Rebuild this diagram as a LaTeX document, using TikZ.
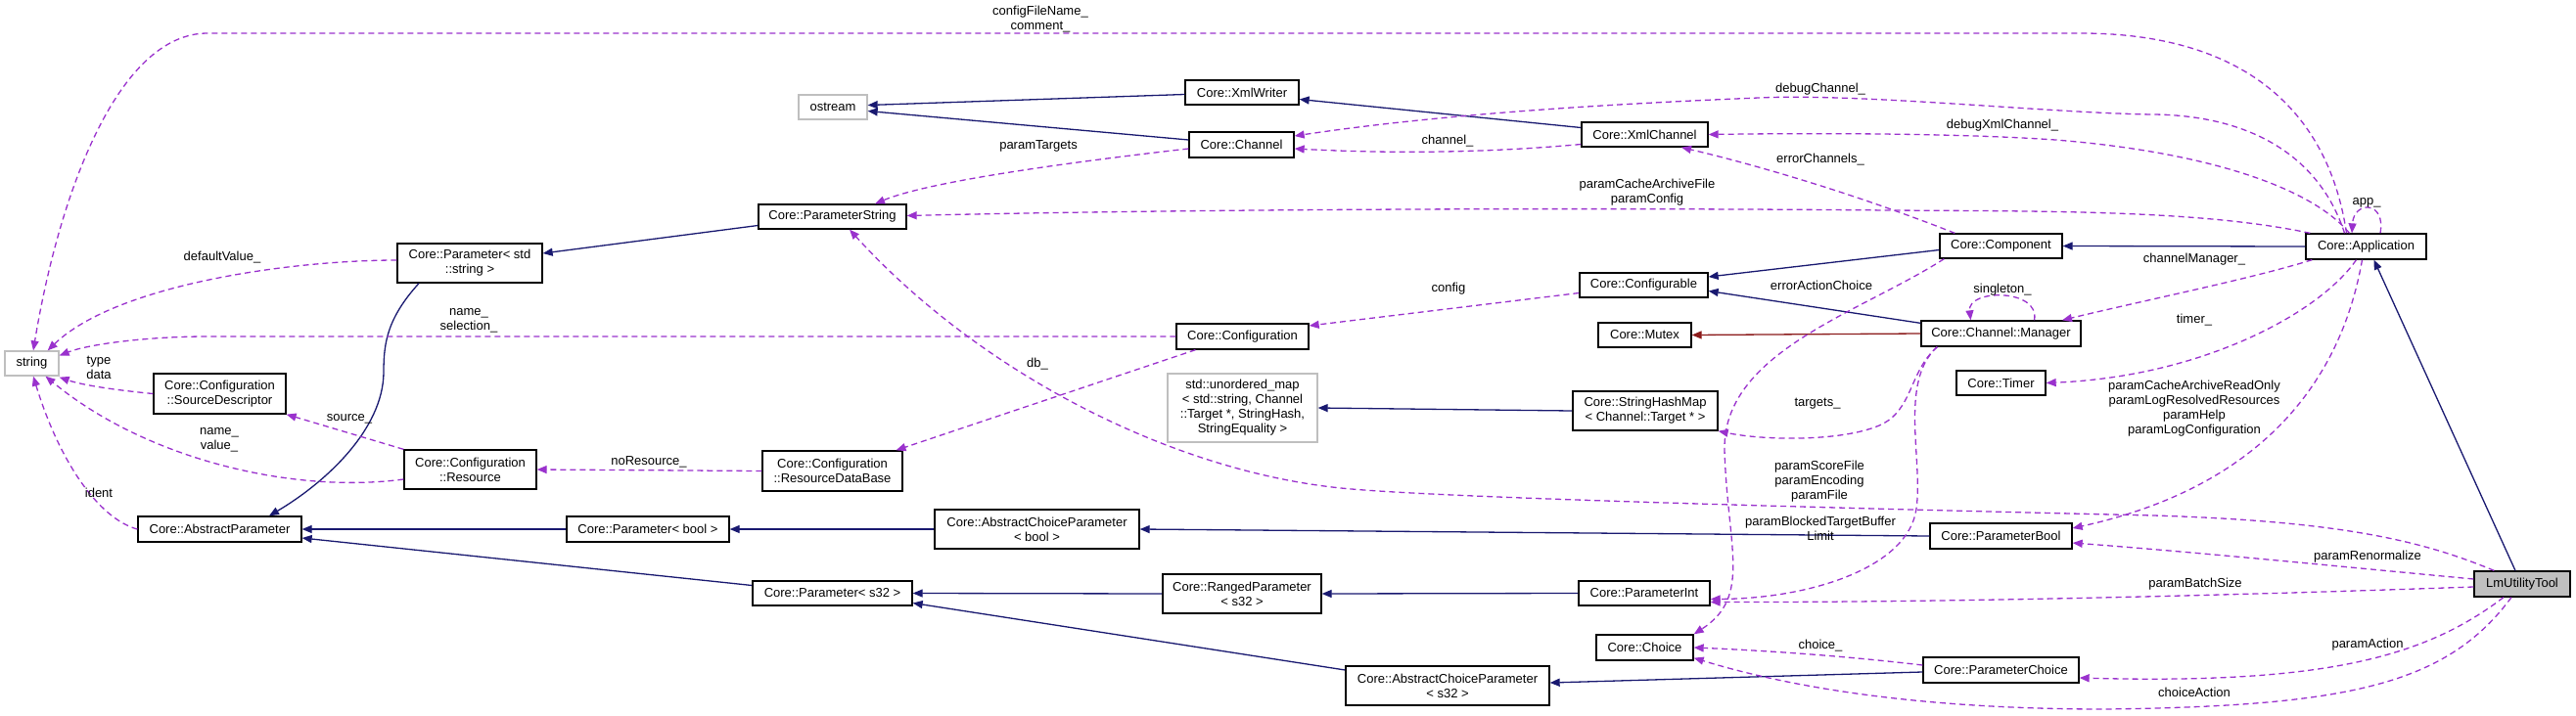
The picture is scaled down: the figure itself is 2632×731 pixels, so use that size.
\documentclass[tikz,border=0pt]{standalone}
\usepackage{fontspec}
\setmainfont{Liberation Sans}
\usetikzlibrary{arrows.meta,calc}
\definecolor{inhcol}{RGB}{25,25,112}
\definecolor{usecol}{RGB}{154,50,205}
\definecolor{privcol}{RGB}{139,26,26}
\definecolor{graycol}{RGB}{191,191,191}
\begin{document}
\begin{tikzpicture}[x=1pt,y=-1pt,
  font=\fontsize{13}{15}\selectfont,
  cls/.style={draw=black, line width=1.3pt, fill=white, inner sep=0pt, align=center},
  ext/.style={draw=graycol, line width=1.3pt, fill=white, inner sep=0pt, align=center},
  me/.style={draw=black, line width=1.3pt, fill=graycol, inner sep=0pt, align=center},
  inh/.style={draw=inhcol, line width=1.3pt, -{Triangle[length=10pt,width=8pt]}},
  priv/.style={draw=privcol, line width=1.3pt, -{Triangle[length=10pt,width=8pt]}},
  use/.style={draw=usecol, line width=1.3pt, dash pattern=on 6pt off 4pt, -{Triangle[length=10pt,width=8pt]}},
  lbl/.style={inner sep=0pt, align=center}
]
\useasboundingbox (0,0) rectangle (2632,731);

% ---- nodes ----
\node[ext, minimum width=55pt, minimum height=25pt] (str) at (32.5,371.5) {string};
\node[ext, minimum width=70pt, minimum height=25pt] (os) at (851,109.5) {ostream};
\node[cls, minimum width=151pt, minimum height=25pt] (ps) at (850.5,221.5) {Core::ParameterString};
\node[cls, minimum width=148pt, minimum height=40pt] (pstd) at (480,269) {Core::Parameter< std\\::string >};
\node[cls, minimum width=167pt, minimum height=26pt] (ap) at (224.5,541) {Core::AbstractParameter};
\node[cls, minimum width=135pt, minimum height=41pt] (sd) at (224.5,402.5) {Core::Configuration\\::SourceDescriptor};
\node[cls, minimum width=135pt, minimum height=40pt] (res) at (480.5,480) {Core::Configuration\\::Resource};
\node[cls, minimum width=166pt, minimum height=26pt] (pb) at (662,541) {Core::Parameter< bool >};
\node[cls, minimum width=143pt, minimum height=41pt] (rdb) at (850.5,481.5) {Core::Configuration\\::ResourceDataBase};
\node[cls, minimum width=163pt, minimum height=25pt] (p32) at (850.5,606.5) {Core::Parameter< s32 >};
\node[cls, minimum width=116pt, minimum height=25pt] (xw) at (1269,94.5) {Core::XmlWriter};
\node[cls, minimum width=107pt, minimum height=26pt] (ch) at (1268.5,148) {Core::Channel};
\node[cls, minimum width=135pt, minimum height=26pt] (cfg) at (1269.5,344) {Core::Configuration};
\node[ext, minimum width=153pt, minimum height=70pt] (umap) at (1269.5,417) {std::unordered\_map\\< std::string, Channel\\::Target *, StringHash,\\StringEquality >};
\node[cls, minimum width=209pt, minimum height=40pt] (acpb) at (1059.5,541) {Core::AbstractChoiceParameter\\< bool >};
\node[cls, minimum width=162pt, minimum height=40pt] (rp) at (1269,607) {Core::RangedParameter\\< s32 >};
\node[cls, minimum width=208pt, minimum height=40pt] (acp32) at (1479,701) {Core::AbstractChoiceParameter\\< s32 >};
\node[cls, minimum width=129pt, minimum height=25pt] (xc) at (1680.5,137.5) {Core::XmlChannel};
\node[cls, minimum width=131pt, minimum height=25pt] (cfgable) at (1679.5,291.5) {Core::Configurable};
\node[cls, minimum width=95pt, minimum height=25pt] (mutex) at (1680.5,342.5) {Core::Mutex};
\node[cls, minimum width=148pt, minimum height=40pt] (shm) at (1681,420) {Core::StringHashMap\\< Channel::Target * >};
\node[cls, minimum width=134pt, minimum height=25pt] (pint) at (1680,606.5) {Core::ParameterInt};
\node[cls, minimum width=99pt, minimum height=26pt] (choice) at (1680.5,662) {Core::Choice};
\node[cls, minimum width=125pt, minimum height=25pt] (comp) at (2044.5,251.5) {Core::Component};
\node[cls, minimum width=163pt, minimum height=26pt] (mgr) at (2044.5,341) {Core::Channel::Manager};
\node[cls, minimum width=91pt, minimum height=25pt] (timer) at (2044.5,391.5) {Core::Timer};
\node[cls, minimum width=145pt, minimum height=26pt] (pbool) at (2044.5,548) {Core::ParameterBool};
\node[cls, minimum width=159pt, minimum height=26pt] (pchoice) at (2044.5,685) {Core::ParameterChoice};
\node[cls, minimum width=123pt, minimum height=26pt] (app) at (2417.5,252) {Core::Application};
\node[me, minimum width=98pt, minimum height=26pt] (lm) at (2577,597) {LmUtilityTool};

% ---- inheritance ----
\draw[inh] ($(xw.west)+(0,2)$) -- ($(os.east)+(0,-2)$);
\draw[inh] ($(ch.west)+(0,-5)$) -- ($(os.east)+(0,4)$);
\draw[inh] ($(xc.west)+(0,-7)$) -- ($(xw.east)+(0,7)$);
\draw[inh] ($(ps.west)+(0,9)$) -- ($(pstd.east)+(0,-10)$);
\draw[inh] ($(pstd.south)+(-52,0)$) .. controls (396,325) and (392,350) .. (392,380)
   .. controls (392,440) and (330,495) .. ($(ap.north)+(50.5,0)$);
\draw[inh] (pb.west) -- (ap.east);
\draw[inh] ($(p32.west)+(0,-8)$) -- ($(ap.east)+(0,9)$);
\draw[inh] (acpb.west) -- (pb.east);
\draw[inh] (pbool.west) -- (acpb.east);
\draw[inh] (rp.west) -- (p32.east);
\draw[inh] (pint.west) -- (rp.east);
\draw[inh] ($(acp32.west)+(0,-16)$) -- ($(p32.east)+(0,10)$);
\draw[inh] ($(pchoice.west)+(0,2)$) -- ($(acp32.east)+(0,-3)$);
\draw[inh] (shm.west) -- (umap.east);
\draw[inh] ($(comp.west)+(0,4)$) -- ($(cfgable.east)+(0,-8.5)$);
\draw[inh] ($(mgr.north west)+(0,3)$) -- ($(cfgable.east)+(0,6)$);
\draw[priv] (mgr.west) -- (mutex.east);
\draw[inh] (app.west) -- (comp.east);
\draw[inh] ($(lm.north)+(-7,0)$) -- ($(app.south)+(8,0)$);

% ---- usage ----
\draw[use] ($(app.north)+(-20,0)$) .. controls (2380,120) and (2300,34) .. (2126,34) -- (212,34)
   .. controls (120,34) and (60,200) .. ($(str.north)+(1.5,0)$);
\node[lbl] (l1) at (1063,19.5) {configFileName\_\\comment\_};

\draw[use] ($(pstd.west)+(0,-3)$) .. controls (300,266) and (120,290) .. ($(str.north east)+(-12,0)$);
\node[lbl] (l2) at (227,263) {defaultValue\_};

\draw[use] (cfg.west) -- (212,344) .. controls (150,344) and (90,352) .. ($(str.east)+(0,-8)$);
\node[lbl] (l3) at (479,328) {name\_\\selection\_};

\draw[use] (sd.west) .. controls (120,399) and (85,394) .. ($(str.south east)+(0,1)$);
\node[lbl] (l4) at (101,376) {type\\data};

\draw[use] ($(res.west)+(0,10)$) .. controls (300,505) and (150,470) .. ($(str.south)+(14,0)$);
\node[lbl] (l5) at (224,450) {name\_\\value\_};

\draw[use] (ap.west) .. controls (100,530) and (60,470) .. ($(str.south)+(1.5,0)$);
\node[lbl] (l6) at (101,504) {ident};

\draw[use] (res.north west) -- (sd.south east);
\node[lbl] (l7) at (357,428) {source\_};

\draw[use] (rdb.west) -- (res.east);
\node[lbl] (l8) at (663,472) {noResource\_};

\draw[use] ($(cfg.south)+(-48,0)$) -- ($(rdb.north)+(65,0)$);
\node[lbl] (l9) at (1060,372) {db\_};

\draw[use] ($(cfgable.west)+(0,8)$) -- ($(cfg.east)+(0,-11)$);
\node[lbl] (l10) at (1480,295) {config};

\draw[use] ($(ch.west)+(0,4)$) .. controls (1100,165) and (950,185) .. ($(ps.north)+(43.5,0)$);
\node[lbl] (l11) at (1061,149) {paramTargets};

\draw[use] ($(app.north west)+(5,0)$) .. controls (2250,215) and (2100,216) .. (1929,215)
   .. controls (1600,212) and (1200,214) .. ($(ps.east)+(0,-1)$);
\node[lbl] (l12) at (1683,196.5) {paramCacheArchiveFile\\paramConfig};

\draw[use] ($(lm.north west)+(21,0)$) .. controls (2480,555) and (2400,533) .. (2200,527)
   .. controls (1900,520) and (1500,510) .. (1381,500)
   .. controls (1200,485) and (1000,380) .. ($(ps.south)+(17.5,0)$);
\node[lbl] (l13) at (1859,492) {paramScoreFile\\paramEncoding\\paramFile};

\draw[use] ($(app.north)+(-22,0)$) .. controls (2370,160) and (2300,118) .. (2200,117)
   .. controls (2100,116) and (1900,95) .. (1797,100)
   .. controls (1600,108) and (1450,120) .. ($(ch.east)+(0,-9)$);
\node[lbl] (l14) at (1860,91) {debugChannel\_};

\draw[use] ($(app.north)+(-17,0)$) .. controls (2360,190) and (2250,155) .. (2100,143)
   .. controls (2000,136) and (1850,136) .. (xc.east);
\node[lbl] (l15) at (2046,128) {debugXmlChannel\_};

\draw[use] ($(xc.west)+(0,10)$) .. controls (1500,158) and (1400,156) .. ($(ch.east)+(0,4)$);
\node[lbl] (l16) at (1479,144) {channel\_};

\draw[use] ($(comp.north west)+(16,0)$) .. controls (1900,200) and (1800,170) .. ($(xc.south)+(37.5,0)$);
\node[lbl] (l17) at (1860,163) {errorChannels\_};

\draw[use] ($(app.north)+(14.5,0)$) .. controls (2438,205) and (2405,205) .. ($(app.north)+(-14.5,0)$);
\node[lbl] (l18) at (2418,207) {app\_};

\draw[use] ($(app.south west)+(7,0)$) .. controls (2300,285) and (2200,305) .. ($(mgr.north)+(62.5,0)$);
\node[lbl] (l19) at (2242,265) {channelManager\_};

\draw[use] ($(app.south)+(-10,0)$) .. controls (2370,320) and (2250,385) .. (timer.east);
\node[lbl] (l20) at (2242,327) {timer\_};

\draw[use] ($(app.south)+(-4,0)$) .. controls (2390,400) and (2300,500) .. ($(pbool.east)+(0,-8)$);
\node[lbl] (l21) at (2242,418) {paramCacheArchiveReadOnly\\paramLogResolvedResources\\paramHelp\\paramLogConfiguration};

\draw[use] ($(mgr.north)+(34,0)$) .. controls (2085,295) and (2010,295) .. ($(mgr.north)+(-31,0)$);
\node[lbl] (l22) at (2046,296) {singleton\_};

\draw[use] ($(mgr.south west)+(17,0)$) .. controls (1950,380) and (1955,420) .. (1920,435)
   .. controls (1880,452) and (1800,450) .. (shm.south east);
\node[lbl] (l23) at (1857,413) {targets\_};

\draw[use] ($(mgr.south west)+(17,0)$) .. controls (1940,390) and (1965,470) .. (1958,520)
   .. controls (1950,580) and (1850,612) .. ($(pint.east)+(0,6)$);
\node[lbl] (l24) at (1860,540.5) {paramBlockedTargetBuffer\\Limit};

\draw[use] ($(comp.south west)+(5,0)$) .. controls (1900,320) and (1760,360) .. (1762,460)
   .. controls (1765,560) and (1790,610) .. (choice.north east);
\node[lbl] (l25) at (1861,292) {errorActionChoice};

\draw[use] ($(lm.west)+(0,-5)$) .. controls (2400,580) and (2250,565) .. ($(pbool.east)+(0,7)$);
\node[lbl] (l26) at (2419,569) {paramRenormalize};

\draw[use] ($(lm.west)+(0,3)$) .. controls (2300,608) and (2000,616) .. ($(pint.east)+(0,9)$);
\node[lbl] (l27) at (2243,597) {paramBatchSize};

\draw[use] ($(lm.south)+(-19,0)$) .. controls (2480,670) and (2380,700) .. ($(pchoice.east)+(0,8)$);
\node[lbl] (l28) at (2419,659) {paramAction};

\draw[use] ($(lm.south)+(-11,0)$) .. controls (2500,700) and (2400,722) .. (2150,725)
   .. controls (1950,725) and (1820,700) .. ($(choice.south east)+(0,-3)$);
\node[lbl] (l29) at (2242,708) {choiceAction};

\draw[use] ($(pchoice.west)+(0,-5)$) .. controls (1880,670) and (1800,665) .. (choice.east);
\node[lbl] (l30) at (1860,660) {choice\_};
\end{tikzpicture}
\end{document}
